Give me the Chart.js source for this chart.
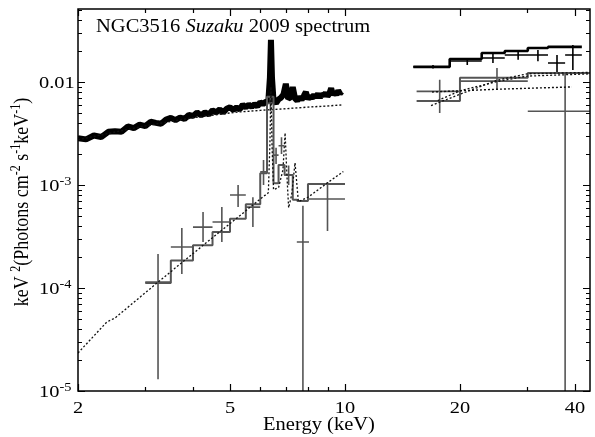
<!DOCTYPE html>
<html>
<head>
<meta charset="utf-8">
<script src="https://cdn.jsdelivr.net/npm/chart.js@4.4.1/dist/chart.umd.min.js"></script>
<style>
  html, body { margin: 0; padding: 0; background: #fff; }
  #chart { display: block; }
</style>
</head>
<body>
<canvas id="chart" width="595" height="437"></canvas>
<script>
// ---- XIS spectrum (black band) ----
const xisEnergy = [2.0,2.1,2.2,2.3,2.4,2.5,2.6,2.7,2.8,2.9,3.0,3.1,3.2,3.3,3.4,3.5,3.6,3.7,3.8,3.9,
  4.0,4.1,4.2,4.3,4.4,4.5,4.6,4.7,4.8,4.9,5.0,5.1,5.2,5.3,5.4,5.5,5.6,5.7,5.8,5.9,6.0,6.1,6.2,6.3,
  6.36,6.4,6.44,6.5,6.6,6.7,6.8,6.9,7.0,7.1,7.2,7.3,7.4,7.5,7.6,7.7,7.8,7.9,8.0,8.1,8.2,8.3,8.4,
  8.5,8.6,8.7,8.8,8.9,9.0,9.1,9.2,9.3,9.4,9.5,9.6,9.7,9.8];
const xisFlux = [0.00284,0.00277,0.00302,0.00292,0.00328,0.00333,0.00328,0.00370,0.00356,0.00385,
  0.00373,0.00411,0.00401,0.00393,0.00431,0.00448,0.00426,0.00452,0.00438,0.00478,
  0.00468,0.00505,0.00474,0.00507,0.00484,0.00531,0.00508,0.00541,0.00505,0.00550,
  0.00568,0.00536,0.00565,0.00543,0.00601,0.00567,0.00603,0.00574,0.00610,0.00580,
  0.00635,0.00610,0.00640,0.00658,0.0110,0.0256,0.0110,0.00662,0.00622,0.00678,
  0.00704,0.00755,0.0096,0.00685,0.0071,0.0089,0.00693,0.00657,0.00716,0.00673,
  0.00733,0.0080,0.0068,0.00733,0.00695,0.0075,0.00711,0.00767,0.00705,0.00761,
  0.00736,0.00784,0.00729,0.00771,0.0087,0.0075,0.0080,0.0075,0.00823,0.00773,0.00809];
// continuum model under the band (dotted)
const xisModelE = [2.0,3.0,4.0,5.0,5.3,6.0,7.0,8.0,9.0,9.8];
const xisModelFlux = [0.00275,0.00375,0.0045,0.0050,0.00512,0.0053,0.0055,0.0057,0.00585,0.00598];

// ---- reflection component, XIS band (grey) ----
const reflModelE = [2.0,2.38,2.5,3.24,4.0,5.0,6.0,6.3,6.36,6.4,6.44,6.5,6.7,6.88,6.97,7.05,7.12,7.25,7.4,7.55,8.0,9.0,9.9];
const reflModelFlux = [2.34e-5,4.68e-5,5.11e-5,1.14e-4,2.16e-4,4.22e-4,7.3e-4,8.4e-4,2.5e-3,9e-3,2.5e-3,9.0e-4,9.4e-4,1.4e-3,3.2e-3,1.2e-3,6.0e-4,8.0e-4,1.64e-3,6.9e-4,7.6e-4,1.05e-3,1.35e-3];
const reflStepEdges = [3.0,3.5,4.0,4.5,5.0,5.5,6.0,6.25,6.5,6.7,6.95,7.3,7.5,8.0,10.0];
const reflStepFlux = [1.12e-4,1.85e-4,2.6e-4,3.5e-4,4.7e-4,6.5e-4,1.3e-3,7.2e-3,1.04e-3,1.56e-3,1.25e-3,7.2e-4,7.0e-4,1.02e-3];
const reflDataE    = [3.24,3.74,4.25,4.76,5.25,5.74,6.12,6.38,6.6,6.82,7.12,7.76,9.0];
const reflDataELo  = [3.0,3.5,4.0,4.5,5.0,5.5,6.0,6.25,6.5,6.7,6.95,7.48,8.05];
const reflDataEHi  = [3.5,4.0,4.5,5.0,5.5,6.0,6.25,6.5,6.7,6.95,7.3,8.05,10.0];
const reflDataFlux = [1.14e-4,2.5e-4,3.9e-4,4.37e-4,8.0e-4,6.1e-4,1.34e-3,6.2e-3,1.95e-3,2.4e-3,1.25e-3,2.8e-4,7.3e-4];
const reflDataLo   = [1.3e-5,1.37e-4,2.8e-4,2.8e-4,6.1e-4,3.9e-4,1.0e-3,5.2e-3,1.6e-3,2.0e-3,1.0e-3,5e-6,3.57e-4];
const reflDataHi   = [2.14e-4,3.83e-4,5.47e-4,6.1e-4,1.0e-3,7.6e-4,1.75e-3,7.3e-3,2.3e-3,2.9e-3,1.55e-3,6.3e-4,1.07e-3];

// ---- HXD-PIN spectrum (black) ----
const pinStepEdges = [15.1,18.8,22.8,26.2,30.1,34.0,41.7];
const pinStepFlux = [0.0140,0.0167,0.0191,0.0200,0.0214,0.0219];
const pinDataE    = [17.0,20.9,24.4,28.4,32.0,35.9,39.5];
const pinDataELo  = [15.1,18.8,22.8,26.2,30.1,34.0,37.7];
const pinDataEHi  = [18.8,22.8,26.2,30.1,34.0,37.7,41.7];
const pinDataFlux = [0.0140,0.0160,0.0171,0.0183,0.0183,0.0153,0.0183];
const pinDataLo   = [0.0135,0.0146,0.0153,0.0164,0.0159,0.0125,0.0131];
const pinDataHi   = [0.0146,0.0171,0.0191,0.0204,0.0204,0.0183,0.0229];
const pinModelE = [16.9,25.0,39.3];
const pinModelFlux = [8.0e-3,8.5e-3,8.95e-3];

// ---- reflection component, PIN band (grey) ----
const pinReflStepEdges = [15.4,20.0,30.1,44.0];
const pinReflStepFlux = [6.55e-3,0.0110,0.0122];
const pinReflDataE    = [17.7,25.0,37.7];
const pinReflDataELo  = [15.4,20.0,30.1];
const pinReflDataEHi  = [20.0,30.1,44.0];
const pinReflDataFlux = [8.1e-3,0.0102,5.2e-3];
const pinReflDataLo   = [5.0e-3,8.4e-3,5e-6];
const pinReflDataHi   = [0.0105,0.0137,0.0122];
const pinReflModelE = [16.8,20.0,25.0,30.0,44.0];
const pinReflModelFlux = [5.9e-3,7.6e-3,0.0104,0.0120,0.0124];
const pinReflModel2E = [17.5,20.0,25.0,30.0,44.0];
const pinReflModel2Flux = [6.6e-3,8.2e-3,0.0101,0.0114,0.0120];

// axes
const xMin = 2, xMax = 43.8, yMin = 1e-5, yMax = 0.0511;
const xTickValues = [2,3,4,5,6,7,8,9,10,20,30,40];
const xLabelValues = [2,5,10,20,40];
const yDecades = [1e-5,1e-4,1e-3,1e-2];
const yLabelText = [['10','-5'],['10','-4'],['10','-3'],['0.01','']];

const GREY = '#555';

function pts(es, vs) { return es.map((e, i) => ({x: e, y: vs[i]})); }

function stepPts(edges, vals) {
  const out = [];
  vals.forEach((v, i) => { out.push({x: edges[i], y: v}); out.push({x: edges[i + 1], y: v}); });
  return out;
}

function crossPts(e, lo, hi, v, vlo, vhi) {
  const out = [];
  e.forEach((c, i) => {
    out.push({x: lo[i], y: v[i]}, {x: hi[i], y: v[i]}, {x: hi[i], y: null});
    out.push({x: c, y: vlo[i]}, {x: c, y: vhi[i]}, {x: c, y: null});
  });
  return out;
}

function ds(data, color, width, dash, order) {
  return { data, borderColor: color, borderWidth: width, borderDash: dash || [], order,
    pointRadius: 0, fill: false, spanGaps: false, tension: 0, borderJoinStyle: 'bevel' };
}

const datasets = [
  ds(pts(xisEnergy, xisFlux), '#000', 6, null, 9),
  ds(pts(xisModelE, xisModelFlux), '#111', 1.4, [2, 2], 8),
  ds(stepPts(reflStepEdges, reflStepFlux), GREY, 2, null, 6),
  ds(crossPts(reflDataE, reflDataELo, reflDataEHi, reflDataFlux, reflDataLo, reflDataHi), GREY, 1.6, null, 5),
  ds(pts(reflModelE, reflModelFlux), '#111', 1.3, [2, 2], 4),
  ds(stepPts(pinStepEdges, pinStepFlux), '#000', 2.6, null, 3),
  ds(crossPts(pinDataE, pinDataELo, pinDataEHi, pinDataFlux, pinDataLo, pinDataHi), '#000', 1.6, null, 2),
  ds(pts(pinModelE, pinModelFlux), '#111', 1.4, [2, 2], 1),
  ds(stepPts(pinReflStepEdges, pinReflStepFlux), GREY, 2, null, 6),
  ds(crossPts(pinReflDataE, pinReflDataELo, pinReflDataEHi, pinReflDataFlux, pinReflDataLo, pinReflDataHi), GREY, 1.6, null, 5),
  ds(pts(pinReflModelE, pinReflModelFlux), '#111', 1.3, [2, 2], 1),
  ds(pts(pinReflModel2E, pinReflModel2Flux), '#111', 1.3, [2, 2], 1)
];

// text in runs, stretched horizontally like the original figure
function drawRuns(ctx, runs, x, y, sx, align, rotate) {
  let w = 0;
  runs.forEach(r => { ctx.font = r.font; r.w = ctx.measureText(r.t).width; w += r.w; });
  ctx.save();
  ctx.translate(x, y);
  ctx.scale(sx, 1);
  if (rotate) ctx.rotate(-Math.PI / 2);
  let cx = align === 'center' ? -w / 2 : (align === 'right' ? -w : 0);
  ctx.textBaseline = 'alphabetic';
  ctx.textAlign = 'left';
  runs.forEach(r => { ctx.font = r.font; ctx.fillText(r.t, cx, r.dy || 0); cx += r.w; });
  ctx.restore();
}

const SERIF = '"Liberation Serif", "DejaVu Serif", serif';
const big = '18px ' + SERIF, tick = '17px ' + SERIF, sup = '12px ' + SERIF;

const framePlugin = {
  id: 'frame',
  afterDraw(chart) {
    const {ctx, chartArea: a, scales: {x, y}} = chart;
    ctx.save();
    ctx.fillStyle = '#000';
    ctx.strokeStyle = '#000';
    ctx.lineWidth = 1.5;
    ctx.strokeRect(a.left, a.top, a.right - a.left, a.bottom - a.top);
    ctx.lineWidth = 1.2;
    ctx.beginPath();
    xTickValues.forEach(v => {
      const px = Math.round(x.getPixelForValue(v)) + 0.5;
      const len = xLabelValues.includes(v) ? 7 : 4;
      ctx.moveTo(px, a.bottom); ctx.lineTo(px, a.bottom - len);
      ctx.moveTo(px, a.top); ctx.lineTo(px, a.top + len);
    });
    yDecades.forEach(d => {
      for (let m = 1; m <= 9; m++) {
        const v = d * m;
        if (v < yMin || v > yMax) continue;
        const py = Math.round(y.getPixelForValue(v)) + 0.5;
        const len = m === 1 ? 7 : 4;
        ctx.moveTo(a.left, py); ctx.lineTo(a.left + len, py);
        ctx.moveTo(a.right, py); ctx.lineTo(a.right - len, py);
      }
    });
    ctx.stroke();

    // x tick labels
    xLabelValues.forEach(v => {
      drawRuns(ctx, [{t: String(v), font: tick}], x.getPixelForValue(v), a.bottom + 22, 1.2, 'center');
    });
    // y tick labels
    yDecades.forEach((d, i) => {
      const py = y.getPixelForValue(d);
      const [base, exp] = yLabelText[i];
      const runs = [{t: base, font: tick}];
      if (exp) runs.push({t: exp, font: sup, dy: -6});
      drawRuns(ctx, runs, 39, py + 6, 1.2, 'left');
    });
    // axis titles
    drawRuns(ctx, [{t: 'Energy (keV)', font: big}], 319, 430, 1.14, 'center');
    drawRuns(ctx, [
      {t: 'keV ', font: big}, {t: '2', font: sup, dy: -7},
      {t: '(Photons cm', font: big}, {t: '-2', font: sup, dy: -7},
      {t: ' s', font: big}, {t: '-1', font: sup, dy: -7},
      {t: 'keV', font: big}, {t: '-1', font: sup, dy: -7},
      {t: ')', font: big}
    ], 28, 202, 1.14, 'center', true);
    // title inside the frame
    drawRuns(ctx, [
      {t: 'NGC3516 ', font: big},
      {t: 'Suzaku', font: 'italic 18px ' + SERIF},
      {t: ' 2009 spectrum', font: big}
    ], 96, 32, 1.14, 'left');
    ctx.restore();
  }
};

new Chart(document.getElementById('chart'), {
  type: 'line',
  data: { datasets },
  options: {
    responsive: false,
    animation: false,
    devicePixelRatio: 1,
    layout: { padding: { top: 9, right: 5, left: 0, bottom: 0 } },
    plugins: { legend: { display: false }, tooltip: { enabled: false } },
    scales: {
      x: {
        type: 'logarithmic', min: xMin, max: xMax,
        grid: { display: false }, border: { display: false }, ticks: { display: false },
        afterFit(s) { s.height = 46; }
      },
      y: {
        type: 'logarithmic', min: yMin, max: yMax,
        grid: { display: false }, border: { display: false }, ticks: { display: false },
        afterFit(s) { s.width = 78; }
      }
    }
  },
  plugins: [framePlugin]
});
</script>
</body>
</html>
